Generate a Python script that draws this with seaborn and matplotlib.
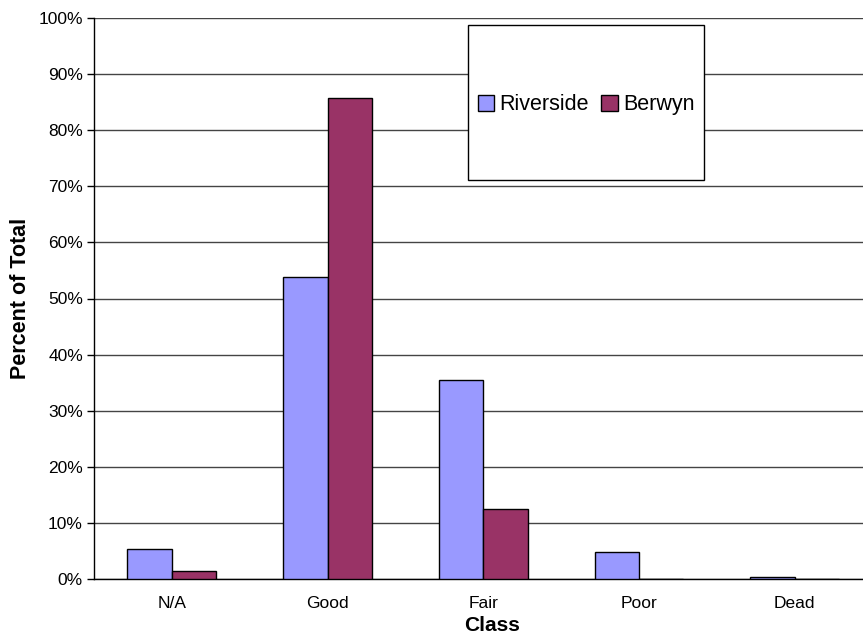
import matplotlib
matplotlib.use("Agg")
import matplotlib.pyplot as plt
from matplotlib.patches import Rectangle, Patch
from matplotlib.ticker import FixedLocator, PercentFormatter
import seaborn as sns
import pandas as pd

classes = ["N/A", "Good", "Fair", "Poor", "Dead"]
riverside = [5.3, 53.9, 35.5, 4.8, 0.3]
berwyn = [1.4, 85.7, 12.5, 0.0, 0.0]
sites = ["Riverside", "Berwyn"]
colors = {"Riverside": "#9999FF", "Berwyn": "#993366"}

df = pd.DataFrame({
    "Class": classes * 2,
    "Percent": riverside + berwyn,
    "Site": ["Riverside"] * len(classes) + ["Berwyn"] * len(classes),
})

sns.set_style("white")
plt.rcParams["font.family"] = ["Liberation Sans", "DejaVu Sans"]
plt.rcParams["text.color"] = "black"
plt.rcParams["axes.labelcolor"] = "black"
plt.rcParams["xtick.color"] = "black"
plt.rcParams["ytick.color"] = "black"

fig = plt.figure(figsize=(8.63, 6.34), dpi=100)
ax = fig.add_axes([94 / 863, 55 / 634, 778.5 / 863, 561 / 634])

sns.barplot(data=df, x="Class", y="Percent", hue="Site", order=classes,
            hue_order=sites, palette=colors, saturation=1, width=0.57, gap=0,
            edgecolor="black", linewidth=1.0, ax=ax, legend=False, zorder=3)

ax.set_ylim(0, 100)
ax.set_xlim(-0.5, 4.5)
ax.yaxis.set_major_locator(FixedLocator(range(0, 101, 10)))
ax.yaxis.set_major_formatter(PercentFormatter(decimals=0))
ax.grid(axis="y", color="#444444", linewidth=1.0, zorder=0)
ax.set_axisbelow(True)

for side in ["top", "right"]:
    ax.spines[side].set_visible(False)
for side in ["left", "bottom"]:
    ax.spines[side].set_color("black")
    ax.spines[side].set_linewidth(1.0)

ax.xaxis.set_minor_locator(FixedLocator([-0.5, 0.5, 1.5, 2.5, 3.5, 4.5]))
ax.tick_params(axis="x", which="major", length=0, pad=12, labelsize=12.5)
ax.tick_params(axis="x", which="minor", length=5, width=1, color="black", direction="out")
ax.tick_params(axis="y", length=5, width=1, color="black", direction="out",
               labelsize=12.5, pad=3, left=True)

ax.set_xlabel("Class", fontsize=15, fontweight="bold", labelpad=2)
ax.xaxis.set_label_coords(0.511, -0.066)
ax.set_ylabel("Percent of Total", fontsize=15.5, fontweight="bold", labelpad=5)

# legend box
x0 = (468 - 94) / 778.5
x1 = (704 - 94) / 778.5
y0 = (579 - 180) / 561
y1 = (579 - 25) / 561
box = Rectangle((x0, y0), x1 - x0, y1 - y0, transform=ax.transAxes,
                facecolor="white", edgecolor="black", linewidth=1.0, zorder=5)
ax.add_patch(box)
handles = [Patch(facecolor=colors[s], edgecolor="black", linewidth=1.0) for s in sites]
leg = ax.legend(handles, sites, ncol=2, frameon=False, fontsize=15.5,
                loc="center", bbox_to_anchor=((x0 + x1) / 2, (y0 + y1) / 2 - 0.004),
                handlelength=0.75, handleheight=0.75, handletextpad=0.25,
                columnspacing=0.6, borderaxespad=0)
leg.set_zorder(6)

fig.savefig("out.png", dpi=100)
